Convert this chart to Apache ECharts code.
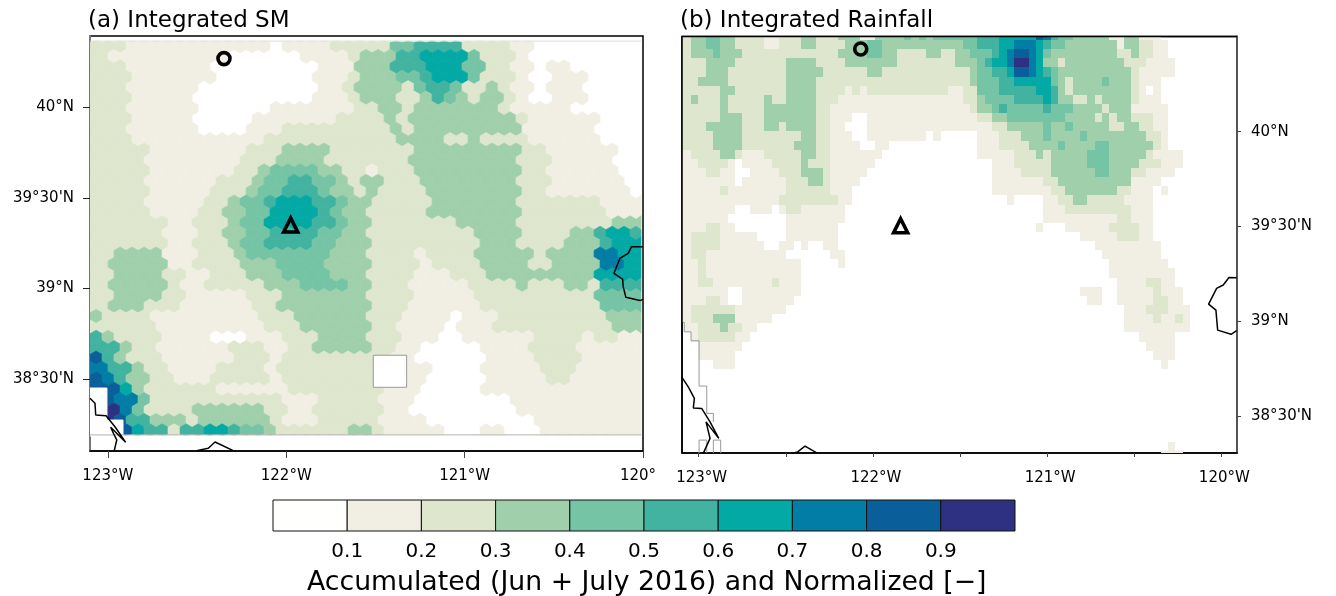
<!DOCTYPE html>
<html><head><meta charset="utf-8">
<style>html,body{margin:0;padding:0;background:#fff}#c{width:1336px;height:596px}</style>
<script src="https://cdn.jsdelivr.net/npm/echarts@6/dist/echarts.min.js"></script>
</head><body><div id="c"></div>
<script>
// Colour classes, lowest first
const binColors=['#FFFFFE','#F1EFE3','#DEE6CD','#A0D0AB','#75C4A5','#42B3A0','#02A9A5','#017DA6','#0A5F9A','#2E3082'];
const binTicks=[0.1,0.2,0.3,0.4,0.5,0.6,0.7,0.8,0.9];
const titleA='(a) Integrated SM', titleB='(b) Integrated Rainfall';
const captionText='Accumulated (Jun + July 2016) and Normalized [−]';

// Panel (a): staggered hexagonal cells, each row as level x count runs
const hexLonStart=-123.066, hexLonStep=0.06727, hexLatStart=40.339, hexLatStep=0.05746;
const smRows=[
"2x3 1x12 0x1 1x4 2x5 4x2 5x4 2x4 1x2 0x9",
"2x1 1x10 0x6 1x4 2x1 3x3 5x2 6x4 4x1 2x3 1x1 0x10",
"2x3 1x7 0x9 1x3 3x3 5x3 6x3 4x2 2x2 1x2 0x1 1x2 0x6",
"2x3 1x7 0x8 1x3 2x1 3x3 4x2 5x1 6x3 4x1 2x3 1x1 0x2 1x3 0x5",
"2x3 1x6 0x10 1x2 2x1 3x4 2x1 4x1 5x2 4x1 2x2 3x1 2x1 1x2 0x1 1x3 0x5",
"2x3 1x5 0x10 1x3 2x1 3x3 2x2 3x1 5x1 4x1 3x1 2x1 3x2 2x1 1x1 0x2 1x3 0x5",
"2x3 1x6 0x6 1x7 2x2 3x2 2x1 3x7 2x1 1x5 0x6",
"2x3 1x5 0x5 1x7 2x4 3x1 2x1 3x9 2x1 1x6 0x4",
"2x3 1x6 0x4 1x3 2x9 3x1 2x1 3x9 1x6 0x4",
"2x3 1x11 2x11 3x4 2x2 3x1 2x4 1x6 0x4",
"2x5 1x8 2x3 3x4 2x7 3x9 2x2 1x6 0x2",
"2x4 1x8 2x3 3x4 2x7 3x9 2x3 1x5 0x3",
"2x5 1x7 2x2 3x1 4x4 3x2 2x2 1x1 2x3 3x9 2x2 1x6 0x2",
"2x4 1x6 2x3 3x1 4x2 5x2 4x2 3x1 2x1 3x2 2x3 3x8 2x3 1x6 0x2",
"2x5 1x5 2x3 3x1 4x2 5x3 4x1 3x2 2x1 3x1 2x4 3x8 2x2 1x7 0x1",
"2x4 1x5 2x2 3x1 4x2 5x1 6x3 5x2 4x1 3x2 2x5 3x7 2x7 1x4",
"2x5 1x4 2x2 3x2 4x2 6x4 5x1 4x1 3x2 2x5 3x8 2x7 1x3",
"2x6 1x2 2x3 3x1 4x2 6x4 5x2 4x1 3x2 2x7 3x5 2x8 3x3",
"2x6 1x3 2x2 3x2 4x2 5x4 4x2 3x2 2x9 3x4 2x4 3x2 5x1 6x2 5x1",
"2x6 1x2 2x3 3x1 4x2 5x4 4x2 3x3 2x9 3x3 2x4 3x3 5x1 6x3",
"2x2 3x4 1x3 2x3 3x1 4x7 3x3 2x4 1x1 2x4 3x5 2x1 3x4 7x2 6x2",
"2x1 3x5 1x2 2x4 3x3 4x4 3x4 2x4 1x1 2x4 3x4 2x2 3x4 7x2 6x2",
"2x2 3x4 2x2 1x2 2x3 3x3 4x4 3x3 2x4 1x3 2x3 3x9 6x4",
"2x1 3x5 2x1 1x2 2x5 3x3 4x4 3x2 2x3 1x5 2x4 3x1 2x3 3x2 2x1 5x4",
"2x2 3x4 2x2 1x5 2x3 3x7 2x4 1x5 2x10 4x4",
"2x1 3x3 2x3 1x6 2x2 3x8 2x3 1x6 2x10 4x4",
"3x1 2x4 1x9 2x3 3x6 2x3 1x4 0x1 1x3 2x9 3x3",
"2x5 1x9 2x3 3x6 2x2 1x4 0x1 1x3 2x10 3x3",
"5x1 3x1 2x4 1x4 0x3 1x3 2x3 3x4 2x3 1x3 0x2 1x6 2x4 1x1 2x2 1x2",
"5x2 3x1 2x2 1x6 2x3 1x2 2x2 3x5 2x2 1x2 0x5 1x4 2x4 1x6",
"8x1 5x1 3x1 2x3 1x6 2x3 1x1 2x9 1x2 0x6 1x4 2x4 1x5",
"7x1 5x2 3x1 2x2 1x4 2x4 1x1 2x9 1x4 0x4 1x5 2x3 1x6",
"8x1 7x1 5x1 3x2 2x2 1x3 2x5 1x1 2x8 1x4 0x5 1x5 2x2 1x6",
"8x2 6x1 3x1 2x6 1x6 2x8 1x3 0x5 1x14",
"8x2 7x2 4x1 2x11 1x3 2x5 1x3 0x8 1x11",
"8x1 9x1 7x1 4x1 2x4 3x6 2x2 1x2 2x6 1x2 0x9 1x11",
"8x1 9x1 8x1 5x2 3x3 2x1 3x6 2x1 1x3 2x5 1x4 0x9 1x9",
"8x3 6x1 5x2 2x1 5x2 6x2 5x1 4x2 3x1 2x6 3x2 2x1 1x5 0x3 1x2 0x3 1x9"
];

// Panel (b): rectangular cells, each row as level x count runs
const rectLonStart=-123.1287, rectLonStep=0.04214, rectLatStart=40.5317, rectLatStep=0.04821;
const rainRows=[
"2x2 3x2 4x2 3x2 2x4 1x2 2x3 3x2 2x3 3x3 1x2 3x4 4x1 3x1 4x1 3x1 4x6 5x3 6x5 8x1 7x1 5x1 4x2 3x5 1x2 3x2 1x3",
"2x2 3x2 4x2 3x2 2x4 1x2 2x3 3x2 2x4 3x3 4x2 3x11 4x2 5x3 6x2 7x3 6x1 5x1 4x2 3x7 1x1 3x2 2x2 1x2",
"2x2 3x3 4x1 3x3 2x13 3x4 4x2 3x2 2x4 3x2 2x2 3x2 4x3 5x1 6x1 7x1 8x2 7x1 6x1 4x1 3x9 2x2 3x1 2x2 1x2",
"2x4 3x4 2x7 3x4 2x4 3x7 2x8 3x3 4x1 5x1 6x2 7x1 9x2 7x1 6x1 3x2 2x1 3x8 2x3 1x4",
"2x4 3x3 2x8 3x5 2x6 3x2 2x12 3x1 4x2 5x2 6x1 8x2 7x1 6x1 5x1 4x1 3x10 2x1 1x5",
"2x3 3x4 2x8 3x4 2x21 3x1 4x3 5x2 6x5 4x1 3x1 2x1 3x4 4x1 3x3 2x1 1x3",
"2x6 3x2 2x7 3x4 2x4 1x1 2x1 1x1 2x11 1x2 2x2 4x3 5x5 6x2 5x1 3x1 2x1 3x8 2x1 1x1 0x1 1x1",
"2x2 3x1 2x3 3x1 2x5 3x1 2x2 3x4 2x3 1x17 2x2 3x1 4x4 5x4 6x1 5x1 3x2 2x2 3x1 2x1 3x4 2x1 1x3",
"2x6 3x1 2x5 3x7 2x2 1x19 2x1 3x2 4x1 5x1 4x5 5x1 4x3 3x4 2x1 3x3 1x5",
"2x6 3x3 2x3 3x7 2x2 1x3 0x2 1x15 2x2 3x2 4x8 3x4 2x1 3x1 2x1 3x2 2x3 1x2",
"2x4 3x5 2x3 3x2 2x1 3x4 2x2 1x2 0x3 1x17 2x2 3x5 4x1 3x2 4x1 3x5 2x2 3x2 2x2 1x2",
"2x5 3x4 2x8 3x2 2x2 1x3 0x2 1x8 0x1 1x1 0x5 1x3 2x3 3x3 4x1 3x4 4x1 3x8 2x2 1x1",
"2x5 3x4 2x7 3x3 2x2 1x4 0x2 1x2 0x12 1x3 2x4 3x4 4x1 3x4 4x2 3x6 2x1 1x1",
"1x2 2x4 3x2 2x1 1x3 2x5 3x2 2x2 1x7 0x13 1x5 2x3 3x1 2x1 3x5 4x3 3x5 2x1 1x4",
"1x3 2x4 1x1 0x1 1x4 2x4 3x1 2x3 1x6 0x16 1x3 2x5 3x5 4x3 3x4 2x3 1x3",
"1x4 2x2 1x2 0x2 1x4 2x3 3x3 2x1 1x5 0x17 1x4 2x4 3x6 4x2 3x3 2x2 1x4",
"1x8 0x1 1x6 2x3 3x2 2x1 1x4 0x18 1x7 2x2 3x10 1x4",
"1x6 2x1 1x8 2x6 1x3 0x19 1x8 2x2 3x7 2x2 1x3 0x1 1x1",
"1x14 2x8 1x2 0x21 1x1 0x4 1x2 2x2 3x2 2x5 1x4",
"1x8 0x2 1x3 0x1 1x1 2x2 1x6 0x27 1x3 2x9 1x3",
"1x7 0x8 1x8 0x27 1x10 2x2 1x3",
"1x4 2x2 1x2 0x7 1x7 0x27 1x1 0x3 1x6 2x4 1x2",
"1x2 2x4 1x5 0x4 1x7 0x33 1x5 2x3 1x2",
"1x2 2x4 1x6 0x2 1x2 0x1 1x1 0x2 1x2 0x35 1x9",
"1x2 2x2 1x11 0x6 1x2 0x35 1x8",
"1x3 2x1 1x13 0x5 1x1 0x36 1x8",
"1x3 2x1 1x13 0x42 1x9",
"1x3 2x2 1x8 2x1 1x3 0x43 1x4 2x2 1x2",
"1x7 0x2 1x8 0x38 1x3 0x2 1x5 2x1 1x3",
"1x4 2x2 1x1 0x2 1x7 0x40 1x2 0x2 1x5 2x2 1x2",
"1x2 2x6 1x7 0x46 1x3 2x3 1x3",
"1x2 2x3 3x3 1x5 0x48 1x4 2x1 1x2 2x1 1x1",
"0x1 1x2 2x3 3x1 2x2 1x2 0x50 1x9",
"0x2 1x1 2x5 1x2 0x53 1x5",
"0x3 1x6 0x55 1x4",
"0x3 1x5 0x57 1x3",
"0x5 1x3 0x58 1x1",
"","","","","","","","",
"0x67 1x1",
"0x66 1x3"
];

// Axis ticks
const lonTicksA=[-123,-122,-121,-120], lonLabelsA=['123°W','122°W','121°W','{end|120°}'];
const latTicksA=[40,39.5,39,38.5], latLabelsA=['40°N','39°30\'N','39°N','38°30\'N'];
const lonTicksB=[-123,-122.5,-122,-121.5,-121,-120.5,-120], lonLabelsB=['123°W','','122°W','','121°W','','120°W'];
const latTicksB=[40,39.5,39,38.5], latLabelsB=['40°N','39°30\'N','39°N','38°30\'N'];

// Coastlines and lake shore [lon,lat]
const coastA1=[[-123.1,38.392],[-123.072,38.365],[-123.068,38.300],[-123.010,38.296],[-122.960,38.235],[-122.900,38.149],[-122.984,38.232],[-122.969,38.199],[-122.950,38.162],[-122.964,38.103]];
const coastA2=[[-122.502,38.103],[-122.437,38.116],[-122.399,38.151],[-122.297,38.103]];
const lakeA=[[-120.0,39.230],[-120.064,39.230],[-120.083,39.193],[-120.129,39.166],[-120.163,39.083],[-120.114,39.050],[-120.111,39.009],[-120.096,38.950],[-120.017,38.932],[-120.0,38.939]];
const coastB1=[[-123.098,38.707],[-123.060,38.654],[-123.025,38.593],[-123.031,38.543],[-122.983,38.540],[-122.935,38.469],[-122.885,38.382],[-122.958,38.469],[-122.935,38.382],[-122.974,38.303]];
const coastB2=[[-122.466,38.303],[-122.432,38.311],[-122.390,38.341],[-122.317,38.303]];
const lakeB=[[-119.912,39.229],[-119.956,39.231],[-119.989,39.191],[-120.027,39.173],[-120.073,39.090],[-120.031,39.059],[-120.027,39.015],[-120.021,38.953],[-119.944,38.931],[-119.912,38.950]];
const maskOutlineB1=[[-123.098,38.994],[-123.083,38.994],[-123.083,38.944],[-123.044,38.944],[-123.044,38.897],[-122.998,38.897],[-122.998,38.658],[-122.954,38.658],[-122.954,38.514],[-122.916,38.514],[-122.916,38.468]];
const maskOutlineB2=[[-122.998,38.305],[-122.998,38.373],[-122.954,38.373],[-122.954,38.305]];
const maskOutlineB3=[[-122.916,38.305],[-122.916,38.373],[-122.874,38.373],[-122.874,38.305]];

// Missing-data boxes in panel (a): [lonW,lonE,latN,latS,hasOutline]
const missingBoxesA=[[-123.1,-123.005,38.449,38.272,0],[-123.1,-122.915,38.272,38.184,0],[-121.512,-121.325,38.630,38.453,1]];
const regionA={west:-123.1,east:-120.011,north:40.366,south:38.190};
const regionTopA=[[regionA.west,regionA.north],[regionA.east,regionA.north]];
const regionBottomA=[[regionA.west,regionA.south],[regionA.east,regionA.south]];
const frameB=[[-123.096,38.305],[-123.096,40.502],[-119.91,40.502]];

// Sites
const circleA=[-122.349,40.269], triangleA=[-121.975,39.350];
const circleB=[-122.070,40.436], triangleB=[-121.841,39.504];

const FONT='DejaVu Sans';
function expand(row){
  const out=[];
  row.split(' ').filter(Boolean).forEach(t=>{const [l,n]=t.split('x').map(Number);for(let i=0;i<n;i++)out.push(l);});
  return out;
}
const hexCells=[];
smRows.forEach((row,r)=>{
  const odd=r%2===1, levels=expand(row);
  const lat=hexLatStart-r*hexLatStep;
  levels.forEach((lv,c)=>{
    if(!lv)return;
    hexCells.push([hexLonStart+(c+(odd?0.5:0))*hexLonStep,lat,lv]);
    if(odd&&c===0)hexCells.push([hexLonStart-0.5*hexLonStep,lat,lv]);
  });
});
const rectCells=[];
rainRows.forEach((row,r)=>{
  expand(row).forEach((lv,j)=>{
    if(lv)rectCells.push([rectLonStart+j*rectLonStep,rectLatStart-r*rectLatStep,lv]);
  });
});
const barCells=binColors.map((c,i)=>[i/10,(i+1)/10,i]);

function renderHex(params,api){
  const lon=api.value(0),lat=api.value(1),lv=api.value(2);
  const hw=hexLonStep/2, r=hexLatStep*2/3;
  const corners=[[lon,lat+r],[lon+hw,lat+r/2],[lon+hw,lat-r/2],[lon,lat-r],[lon-hw,lat-r/2],[lon-hw,lat+r/2]];
  const a=api.coord([regionA.west,regionA.north]), b=api.coord([regionA.east,regionA.south]);
  const pts=echarts.graphic.clipPointsByRect(corners.map(p=>api.coord(p)),{x:a[0],y:a[1],width:b[0]-a[0],height:b[1]-a[1]});
  return {type:'polygon',shape:{points:pts},style:{fill:binColors[lv],stroke:binColors[lv],lineWidth:0.7}};
}
function renderRect(params,api){
  const a=api.coord([api.value(0),api.value(1)]);
  const b=api.coord([api.value(0)+rectLonStep,api.value(1)-rectLatStep]);
  const x0=Math.round(a[0]),y0=Math.round(a[1]),x1=Math.round(b[0]),y1=Math.round(b[1]);
  return {type:'rect',shape:{x:x0,y:y0,width:x1-x0,height:y1-y0},style:{fill:binColors[api.value(2)]}};
}
function renderBox(params,api){
  const a=api.coord([api.value(0),api.value(2)]), b=api.coord([api.value(1),api.value(3)]);
  const o=api.value(4);
  return {type:'rect',shape:{x:a[0],y:a[1],width:b[0]-a[0],height:b[1]-a[1]},style:{fill:'#fff',stroke:o?'#999':'#fff',lineWidth:1}};
}
function renderBar(params,api){
  const a=api.coord([api.value(0),1]), b=api.coord([api.value(1),0]);
  return {type:'rect',shape:{x:a[0],y:a[1],width:b[0]-a[0],height:b[1]-a[1]},style:{fill:binColors[api.value(2)],stroke:'#111',lineWidth:1}};
}
const line=(data,i,color,w,clip)=>({type:'line',xAxisIndex:i,yAxisIndex:i,data,showSymbol:false,symbol:'none',silent:true,animation:false,clip:clip!==false,lineStyle:{color,width:w},z:5});
const marker=(pt,sym,i,size)=>({type:'scatter',xAxisIndex:i,yAxisIndex:i,data:[pt],symbol:sym,symbolSize:size,silent:true,animation:false,z:8,itemStyle:{color:'rgba(0,0,0,0)',borderColor:'#000',borderWidth:3.6,opacity:1}});
const labelFrom=(ticks,labels)=>v=>{const i=ticks.findIndex(t=>Math.abs(t-v)<1e-6);return i<0?'':labels[i];};
const axisText={fontFamily:FONT,fontSize:15,color:'#000'};

const chart=echarts.init(document.getElementById('c'),null,{renderer:'canvas'});
chart.setOption({
  animation:false,
  backgroundColor:'#fff',
  title:[
    {text:titleA,left:88,top:10,padding:0,textStyle:{fontFamily:FONT,fontSize:23,fontWeight:'normal',color:'#000'}},
    {text:titleB,left:680,top:10,padding:0,textStyle:{fontFamily:FONT,fontSize:23,fontWeight:'normal',color:'#000'}},
    {text:captionText,left:307,top:570,padding:0,textStyle:{fontFamily:FONT,fontSize:26.7,fontWeight:'normal',color:'#000'}}
  ],
  grid:[
    {left:90,top:36,width:553,height:415,show:true,borderColor:'#000',borderWidth:1.5,backgroundColor:'#fff'},
    {left:682,top:36.5,width:555,height:416.5,show:true,borderColor:'#000',borderWidth:1.5,backgroundColor:'#fff'},
    {left:273,top:500,width:742,height:31,show:false}
  ],
  xAxis:[
    {gridIndex:0,type:'value',min:-123.1,max:-120,splitLine:{show:false},axisLine:{lineStyle:{color:'#000',width:1.5}},
     axisTick:{customValues:lonTicksA,length:7,lineStyle:{color:'#444',width:1}},
     axisLabel:{customValues:lonTicksA,formatter:labelFrom(lonTicksA,lonLabelsA),margin:18,...axisText,
       rich:{end:{fontFamily:FONT,fontSize:15,color:'#000',padding:[0,10,0,0]}}}},
    {gridIndex:1,type:'value',min:-123.096,max:-119.91,splitLine:{show:false},axisLine:{lineStyle:{color:'#000',width:1.5}},
     axisTick:{customValues:lonTicksB,length:4,lineStyle:{color:'#444',width:1}},
     axisLabel:{customValues:lonTicksB,formatter:labelFrom(lonTicksB,lonLabelsB),margin:18,padding:[0,0,0,6],...axisText}},
    {gridIndex:2,type:'value',min:0,max:1,splitLine:{show:false},axisLine:{show:false},axisTick:{show:false},
     axisLabel:{customValues:binTicks,formatter:v=>v.toFixed(1),margin:11,fontFamily:FONT,fontSize:20,color:'#000'}}
  ],
  yAxis:[
    {gridIndex:0,type:'value',min:38.101,max:40.394,splitLine:{show:false},axisLine:{show:true,lineStyle:{color:'#777',width:2}},
     axisTick:{show:true,customValues:latTicksA,length:7,lineStyle:{color:'#222',width:1}},
     axisLabel:{customValues:latTicksA,formatter:labelFrom(latTicksA,latLabelsA),margin:16,padding:[7,0,0,0],...axisText}},
    {gridIndex:1,type:'value',position:'right',min:38.305,max:40.502,splitLine:{show:false},axisLine:{show:true,lineStyle:{color:'#555',width:2}},
     axisTick:{show:true,customValues:latTicksB,length:4,lineStyle:{color:'#444',width:1}},
     axisLabel:{customValues:latTicksB,formatter:labelFrom(latTicksB,latLabelsB),margin:14,padding:[7,0,0,0],...axisText}},
    {gridIndex:2,type:'value',min:0,max:1,show:false}
  ],
  series:[
    {type:'custom',xAxisIndex:0,yAxisIndex:0,data:hexCells,renderItem:renderHex,clip:true,silent:true,animation:false,progressive:0,z:2},
    line(regionTopA,0,'#dcdcd6',1),line(regionBottomA,0,'#b4b4ac',1),
    {type:'custom',xAxisIndex:0,yAxisIndex:0,data:missingBoxesA,renderItem:renderBox,clip:true,silent:true,animation:false,progressive:0,z:3},
    line(coastA1,0,'#000',1.5),line(coastA2,0,'#000',1.5),line(lakeA,0,'#000',1.5),
    marker(circleA,'circle',0,12),marker(triangleA,'triangle',0,14),
    {type:'custom',xAxisIndex:1,yAxisIndex:1,data:rectCells,renderItem:renderRect,clip:true,silent:true,animation:false,progressive:0,z:2},
    line(maskOutlineB1,1,'#999',1),line(maskOutlineB2,1,'#999',1),line(maskOutlineB3,1,'#999',1),
    line(coastB1,1,'#000',1.5),line(coastB2,1,'#000',1.5),line(lakeB,1,'#000',1.5),
    line(frameB,1,'#000',1.5,false),
    marker(circleB,'circle',1,12),marker(triangleB,'triangle',1,14),
    {type:'custom',xAxisIndex:2,yAxisIndex:2,data:barCells,renderItem:renderBar,clip:false,silent:true,animation:false,progressive:0,z:2}
  ]
});
</script></body></html>
